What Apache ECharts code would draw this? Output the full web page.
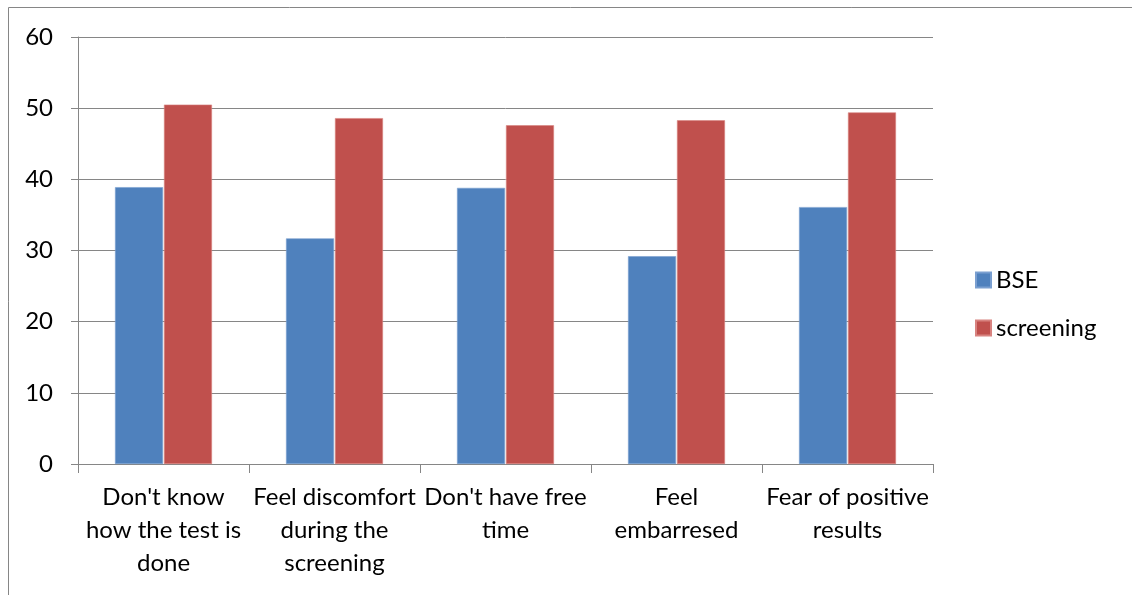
<!DOCTYPE html>
<html>
<head>
<meta charset="utf-8">
<script src="https://cdn.jsdelivr.net/npm/echarts@6/dist/echarts.min.js"></script>
<style>
html,body{margin:0;padding:0;background:#fff;}
#c{width:1132px;height:595px;}
</style>
</head>
<body>
<div id="c"></div>
<script>
var categories = [
  "Don't know\nhow the test is\ndone",
  "Feel discomfort\nduring the\nscreening",
  "Don't have free\ntime",
  "Feel\nembarresed",
  "Fear of positive\nresults"
];
var seriesNames = ["BSE", "screening"];
var bseValues = [38.9, 31.7, 38.8, 29.2, 36.1];
var screeningValues = [50.5, 48.6, 47.6, 48.3, 49.4];
var yTicks = { min: 0, max: 60, interval: 10 };

var FONT = "Lato";
var chart = echarts.init(document.getElementById('c'));
chart.setOption({
  animation: false,
  backgroundColor: '#fff',
  textStyle: { fontFamily: FONT, color: '#000' },
  grid: { left: 78, right: 199, top: 37, bottom: 131, containLabel: false },
  legend: {
    orient: 'vertical',
    left: 970,
    top: 263,
    padding: 5,
    itemWidth: 15,
    itemHeight: 15,
    itemGap: 24,
    icon: 'rect',
    textStyle: { fontFamily: FONT, fontSize: 24, color: '#000' },
    data: seriesNames
  },
  xAxis: {
    type: 'category',
    data: categories,
    axisLine: { lineStyle: { color: '#868686', width: 1 } },
    axisTick: { show: true, length: 9, lineStyle: { color: '#868686' } },
    axisLabel: {
      interval: 0,
      fontFamily: FONT,
      fontSize: 24,
      color: '#000',
      lineHeight: 33,
      margin: 17,
      align: 'center'
    }
  },
  yAxis: {
    type: 'value',
    min: yTicks.min,
    max: yTicks.max,
    interval: yTicks.interval,
    axisLine: { show: true, lineStyle: { color: '#868686', width: 1 } },
    axisTick: { show: true, length: 7, lineStyle: { color: '#868686' } },
    splitLine: { show: true, lineStyle: { color: '#868686', width: 1 } },
    axisLabel: { fontFamily: FONT, fontSize: 24, color: '#000', margin: 25 }
  },
  series: [
    {
      name: seriesNames[0],
      type: 'bar',
      data: bseValues,
      barWidth: 48,
      barGap: '2%',
      itemStyle: { color: '#4F81BD', borderColor: '#7A9FD0', borderWidth: 0.6 }
    },
    {
      name: seriesNames[1],
      type: 'bar',
      data: screeningValues,
      barWidth: 48,
      barGap: '2%',
      itemStyle: { color: '#C0504D', borderColor: '#D88380', borderWidth: 0.6 }
    }
  ],
  graphic: [
    { type: 'line', shape: { x1: 8.5, y1: 7.5, x2: 1132, y2: 7.5 }, style: { stroke: '#868686', lineWidth: 1 } },
    { type: 'line', shape: { x1: 8.5, y1: 7.5, x2: 8.5, y2: 595 }, style: { stroke: '#868686', lineWidth: 1 } }
  ]
});
</script>
</body>
</html>
